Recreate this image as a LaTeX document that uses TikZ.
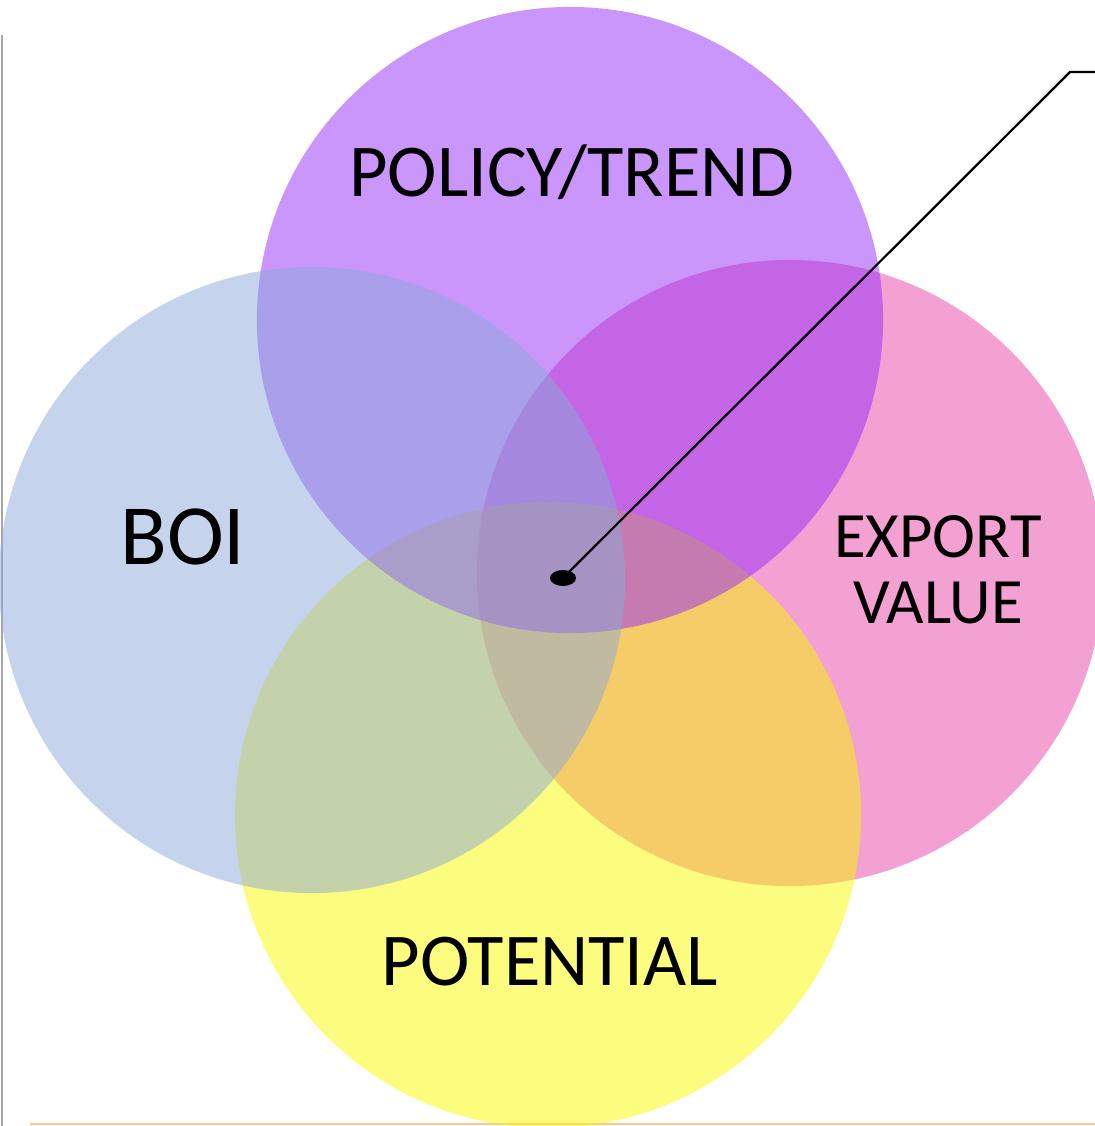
\documentclass[tikz,border=0pt]{standalone}
\usepackage{fontspec}
\setmainfont{Carlito}
\usetikzlibrary{positioning,shapes.geometric}
\pgfdeclarelayer{background layer}
\pgfdeclarelayer{foreground layer}
\pgfsetlayers{background layer,main,foreground layer}
\definecolor{trendpurple}{RGB}{149,45,249}
\definecolor{boiblue}{RGB}{139,169,217}
\definecolor{exportpink}{RGB}{231,65,165}
\definecolor{potyellow}{RGB}{249,249,0}
\begin{document}
\begin{tikzpicture}[x=0.025cm, y=-0.025cm,
set/.style={circle, minimum size=15.65cm, inner sep=0pt, fill opacity=0.5},
tag/.style={text=black, inner sep=0pt, align=center}
]
\useasboundingbox (0,0) rectangle (1095,1126);
\begin{pgfonlayer}{background layer}
\draw[black!35, line width=0.8pt] (2,35) -- (2,1126);
\draw[orange!45, line width=2pt] (30,1124) -- (1095,1124);
\end{pgfonlayer}
\node[set, fill=exportpink] (export) at (790,573) {};
\node[set, fill=potyellow] (potential) at (548,815) {};
\node[set, fill=trendpurple] (trend) at (570,320) {};
\node[set, fill=boiblue] (boi) at (312,580) {};
\node[tag, font=\fontsize{53}{53}\selectfont] (trendtxt) at (572,172) {POLICY/TREND};
\node[tag, font=\fontsize{61}{61}\selectfont] (boitxt) at (183,537) {BOI};
\node[tag, font=\fontsize{46}{47}\selectfont] (exporttxt) at (938,570) {EXPORT\\VALUE};
\node[tag, font=\fontsize{53}{53}\selectfont] (pottxt) at (550,962) {POTENTIAL};
\begin{pgfonlayer}{foreground layer}
\node[ellipse, fill=black, minimum width=0.65cm, minimum height=0.4cm, inner sep=0pt] (core) at (563,578) {};
\coordinate (bend) at (1070,72);
\coordinate (tip) at (1095,72);
\draw[line width=1.6pt] (core.center) -- (bend) -- (tip);
\end{pgfonlayer}
\end{tikzpicture}
\end{document}
